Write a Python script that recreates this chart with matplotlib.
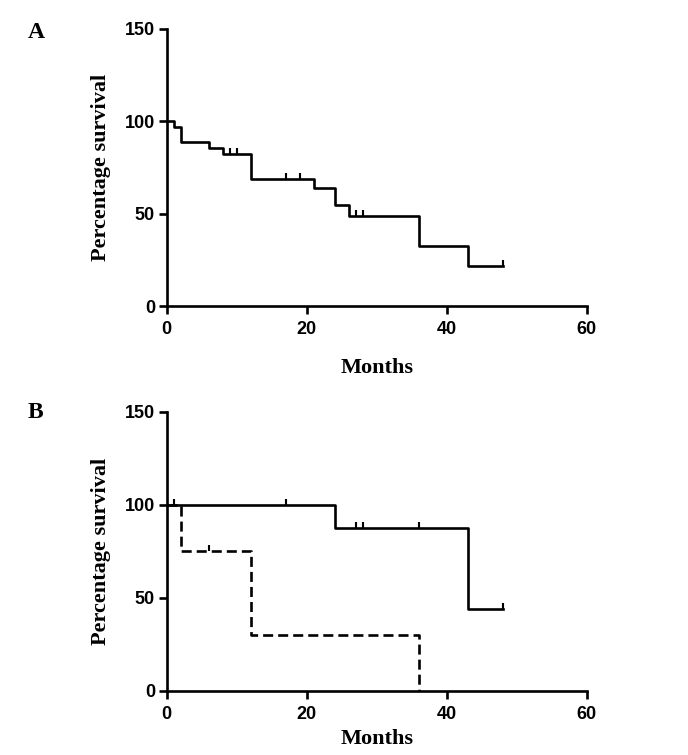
import numpy as np
from matplotlib import pyplot as plt

# panel A: overall survival
a_time = [0, 1, 2, 6, 8, 12, 21, 24, 26, 36, 43, 48]
a_surv = [100, 96.8, 88.6, 85.2, 82.2, 68.5, 64.0, 54.5, 48.6, 32.4, 21.6, 21.6]
a_cens_t = [9, 10, 17, 19, 27, 28, 48]
a_cens_s = [82.2, 82.2, 68.5, 68.5, 48.6, 48.6, 21.6]

# panel B: two groups
b1_time = [0, 24, 43, 48]
b1_surv = [100, 87.5, 43.75, 43.75]
b1_cens_t = [1, 17, 27, 28, 36, 48]
b1_cens_s = [100, 100, 87.5, 87.5, 87.5, 43.75]

b2_time = [0, 2, 12, 36]
b2_surv = [100, 75, 30, 0]
b2_cens_t = [6]
b2_cens_s = [75]

xticks = [0, 20, 40, 60]
yticks = [0, 50, 100, 150]

LW = 1.9
dash = (0, (3.8, 1.9))

fig = plt.figure(figsize=(6.88, 7.55), dpi=100)
axA = fig.add_axes([0.2423, 0.5947, 0.6105, 0.3675])
axB = fig.add_axes([0.2423, 0.0852, 0.6105, 0.3695])


def style(ax):
	ax.set_xlim(0, 60)
	ax.set_ylim(0, 150)
	ax.set_xticks(xticks)
	ax.set_yticks(yticks)
	for s in ['top', 'right']:
		ax.spines[s].set_visible(False)
	for s in ['left', 'bottom']:
		ax.spines[s].set_linewidth(LW)
	ax.tick_params(width=LW, length=5.5, direction='out')
	ax.tick_params(axis='y', pad=3)
	ax.tick_params(axis='x', pad=5.5)
	for lab in ax.get_xticklabels() + ax.get_yticklabels():
		lab.set_fontfamily('Liberation Sans')
		lab.set_fontweight('bold')
		lab.set_fontsize(13)
	ax.set_xlabel('Months', fontfamily='Liberation Serif', fontweight='bold', fontsize=16)
	ax.set_ylabel('Percentage survival', fontfamily='Liberation Serif', fontweight='bold', fontsize=16, labelpad=10)


def censor(ax, t, s):
	ax.vlines(t, s, np.array(s) + 3.2, colors='black', linewidth=LW * 0.8)


axA.step(a_time, a_surv, where='post', color='black', linewidth=LW, clip_on=False)
censor(axA, a_cens_t, a_cens_s)
style(axA)
axA.xaxis.labelpad = 14

axB.step(b1_time, b1_surv, where='post', color='black', linewidth=LW, clip_on=False)
censor(axB, b1_cens_t, b1_cens_s)
axB.step(b2_time, b2_surv, where='post', color='black', linewidth=LW, linestyle=dash, clip_on=False)
censor(axB, b2_cens_t, b2_cens_s)
style(axB)
axB.xaxis.labelpad = 4

fig.text(0.052, 0.957, 'A', fontfamily='Liberation Serif', fontweight='bold', fontsize=17, va='center', ha='center')
fig.text(0.052, 0.454, 'B', fontfamily='Liberation Serif', fontweight='bold', fontsize=17, va='center', ha='center')

fig.savefig('out.png', dpi=100)
